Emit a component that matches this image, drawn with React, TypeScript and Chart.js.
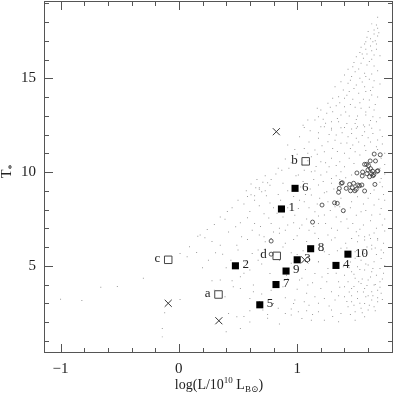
import React, { useEffect, useRef } from "react";
import { Chart, registerables } from "chart.js";

Chart.register(...registerables);

// ---- axis ranges & ticks ----
const X_MIN = -1.14;
const X_MAX = 1.81;
const Y_MIN = 0.35;
const Y_MAX = 19.12;
const xMajorTicks = [-1, 0, 1];
const yMajorTicks = [5, 10, 15];
const xMinorTicks = [-1, -0.8, -0.6, -0.4, -0.2, 0, 0.2, 0.4, 0.6, 0.8, 1, 1.2, 1.4, 1.6, 1.8];
const yMinorTicks = [1, 2, 3, 4, 5, 6, 7, 8, 9, 10, 11, 12, 13, 14, 15, 16, 17, 18, 19];

// ---- filled squares (numbered) ----
const filledLabels = ["1", "2", "3", "4", "5", "6", "7", "8", "9", "10"];
const filledX = [0.867, 0.478, 1.0, 1.328, 0.684, 0.982, 0.821, 1.114, 0.906, 1.429];
const filledY = [8.03, 5.0, 5.32, 5.02, 2.92, 9.13, 4.0, 5.91, 4.72, 5.62];

// ---- open squares (lettered) ----
const openLabels = ["a", "b", "c", "d"];
const openX = [0.335, 1.072, -0.09, 0.827];
const openY = [3.47, 10.57, 5.32, 5.53];

// ---- crosses ----
const crossX = [0.824, -0.09, 0.338, 1.063];
const crossY = [12.15, 3.0, 2.07, 5.32];

// ---- small open circles ----
const circleX = [1.651, 1.702, 1.586, 1.617, 1.662, 1.553, 1.505, 1.55, 1.598, 1.62, 1.637, 1.589, 1.629, 1.612, 1.64, 1.677, 1.648, 1.657,
  1.381, 1.443, 1.477, 1.513, 1.547, 1.466, 1.499, 1.451, 1.488, 1.356, 1.35, 1.57, 1.21, 1.316, 1.339, 1.39,
  1.415, 1.373, 1.527, 1.603, 1.682, 1.57,
  0.78, 1.13, 0.78];
const circleY = [10.96, 10.92, 10.41, 10.59, 10.59, 10.0, 9.95, 9.79, 10.11, 10.18, 10.05, 9.91, 9.91, 9.75, 9.8, 10.04, 9.86, 9.34,
  9.43, 9.34, 9.4, 9.31, 9.31, 9.16, 9.08, 9.0, 9.0, 9.13, 8.92, 8.99, 8.24, 8.36, 8.33, 7.94,
  9.13, 9.4, 9.27, 10.34, 10.07, 10.41,
  6.32, 7.33, 5.62];

// ---- background galaxy cloud (tiny grey dots) ----
const cloudPoints: [number, number][] = [
  [1.68, 18.25], [1.63, 17.9], [1.67, 17.84], [1.68, 17.67], [1.65, 17.58], [1.69, 17.43], [1.65, 17.36], [1.68, 17.26],
  [1.59, 17.19], [1.62, 17.11], [1.58, 16.95], [1.64, 16.95], [1.57, 16.83], [1.67, 16.83], [1.62, 16.72], [1.54, 16.65],
  [1.58, 16.55], [1.63, 16.47], [1.67, 16.55], [1.53, 16.37], [1.59, 16.3], [1.65, 16.24], [1.5, 16.15], [1.56, 16.07],
  [1.63, 16.01], [1.48, 15.84], [1.54, 15.8], [1.59, 15.71], [1.65, 15.66], [1.47, 15.62], [1.43, 15.48], [1.49, 15.35],
  [1.57, 15.27], [1.63, 15.23], [1.4, 15.18], [1.46, 15.09], [1.53, 15.0], [1.61, 14.95], [1.65, 14.87], [1.37, 14.82],
  [1.43, 14.73], [1.5, 14.64], [1.57, 14.55], [1.64, 14.52], [1.32, 14.55], [1.39, 14.38], [1.44, 14.29], [1.52, 14.2],
  [1.58, 14.29], [1.63, 14.11], [1.35, 14.02], [1.4, 13.93], [1.47, 13.88], [1.56, 13.88], [1.61, 13.84], [1.3, 13.93],
  [1.26, 13.67], [1.33, 13.53], [1.4, 13.48], [1.49, 13.45], [1.54, 13.4], [1.61, 13.45], [1.65, 13.31], [1.2, 13.31],
  [1.25, 13.13], [1.3, 13.22], [1.37, 13.04], [1.44, 12.99], [1.51, 12.99], [1.58, 13.04], [1.64, 12.95], [1.18, 12.95],
  [1.09, 12.77], [1.15, 12.77], [1.22, 12.81], [1.29, 12.68], [1.35, 12.68], [1.42, 12.59], [1.49, 12.59], [1.56, 12.51],
  [1.61, 12.51], [1.67, 12.68], [1.06, 12.38], [1.2, 12.41], [1.29, 12.33], [1.4, 12.38], [1.5, 12.33], [1.57, 12.41],
  [1.17, 13.4], [1.05, 12.5], [0.92, 11.44], [1.02, 11.88],
  [1.23, 12.42], [1.29, 12.24], [1.37, 12.36], [1.46, 12.29], [1.51, 12.42], [1.57, 12.15], [1.63, 12.33], [1.7, 12.24],
  [1.33, 11.97], [1.43, 11.88], [1.5, 11.8], [1.6, 11.83], [1.68, 11.71], [1.26, 11.62], [1.37, 11.53], [1.47, 11.44],
  [1.57, 11.4], [1.67, 11.35], [1.18, 11.8], [1.15, 11.17], [1.23, 11.08], [1.3, 11.26], [1.4, 11.0], [1.49, 11.08],
  [1.29, 10.73], [1.36, 10.55], [1.44, 10.73], [1.53, 10.91], [1.2, 10.55], [1.12, 10.82], [1.06, 11.26], [1.04, 10.37],
  [1.27, 10.28], [1.4, 10.28], [1.71, 10.73], [1.7, 10.2], [1.01, 9.84], [1.12, 10.02], [1.2, 9.84], [1.29, 9.66],
  [1.37, 10.02], [1.46, 9.84], [1.71, 9.66], [1.18, 9.31], [1.25, 8.95], [1.43, 9.13], [1.65, 9.04], [1.72, 9.22],
  [1.29, 9.4], [1.06, 8.42], [1.12, 8.77], [1.19, 8.6], [1.26, 8.42], [1.32, 8.15], [1.4, 7.88], [1.46, 8.42],
  [1.51, 8.68], [1.6, 8.6], [1.65, 8.24], [1.71, 8.06], [1.54, 7.88], [1.63, 7.71], [1.74, 8.5], [1.23, 7.71],
  [1.15, 7.88], [1.01, 8.06], [1.04, 7.17], [1.18, 7.26], [1.29, 7.0], [1.37, 7.35], [1.43, 7.0], [1.5, 6.81],
  [1.56, 7.17], [1.61, 6.64], [1.67, 7.0], [1.72, 7.17], [1.46, 6.46], [1.57, 6.37], [1.68, 6.46], [0.78, 6.46],
  [0.92, 7.17], [1.26, 6.64],
  [1.46, 6.46], [1.51, 6.28], [1.57, 6.55], [1.63, 6.1], [1.68, 6.37], [1.71, 5.84], [1.29, 6.37], [1.37, 5.93],
  [1.23, 5.75], [1.18, 6.46], [1.57, 5.66], [1.49, 5.75], [1.54, 5.3], [1.6, 5.04], [1.65, 5.21], [1.7, 4.86],
  [1.63, 4.68], [1.57, 4.77], [1.51, 4.95], [1.46, 4.68], [1.4, 4.5], [1.26, 4.86], [1.18, 5.21], [1.15, 4.59],
  [1.67, 4.5], [1.71, 5.39], [1.43, 4.15], [1.49, 4.33], [1.54, 4.06], [1.6, 4.24], [1.65, 3.97], [1.7, 4.15],
  [1.46, 3.79], [1.51, 3.61], [1.57, 3.79], [1.63, 3.61], [1.68, 3.7], [1.4, 3.88], [1.35, 4.15], [1.29, 3.61],
  [1.2, 3.79], [1.09, 3.97], [1.04, 4.33], [1.71, 3.53], [1.15, 3.35], [1.23, 3.26], [1.32, 3.17], [1.4, 3.35],
  [1.46, 3.08], [1.51, 3.26], [1.57, 2.99], [1.63, 3.17], [1.68, 3.08], [1.43, 2.81], [1.54, 2.73], [1.6, 2.64],
  [1.65, 2.81], [1.06, 3.08], [0.98, 3.17], [1.29, 2.64], [1.37, 2.46], [1.49, 2.55], [1.18, 2.55], [0.9, 2.46],
  [0.95, 2.37], [1.01, 2.55], [1.04, 2.19], [1.12, 2.1], [1.23, 2.1], [1.35, 2.01], [1.49, 2.1], [1.57, 2.28],
  [1.45, 5.2], [1.52, 5.5], [1.58, 5.1], [1.62, 4.4], [1.66, 4.0], [1.72, 4.3], [1.55, 4.3], [1.48, 3.9],
  [1.6, 3.4], [1.68, 3.3], [1.53, 3.0], [1.63, 5.9], [1.44, 4.9], [1.74, 5.0], [1.59, 6.0], [1.49, 5.4],
  [1.67, 5.6], [1.56, 3.6], [1.61, 2.9], [1.46, 3.4],
  [0.73, 6.28], [0.78, 6.46], [0.67, 5.84], [0.56, 5.21], [0.77, 4.59], [0.52, 4.41], [0.6, 4.77], [0.46, 3.88],
  [0.63, 3.61], [0.88, 3.88], [0.91, 4.5], [1.02, 4.24], [1.08, 3.53], [0.97, 2.99], [0.8, 2.99], [0.84, 2.73],
  [0.71, 2.64], [0.6, 3.26], [0.39, 3.35], [0.35, 4.24], [0.49, 6.1], [0.68, 6.64], [0.53, 6.55], [0.85, 6.73],
  [0.95, 5.13], [1.15, 6.73], [1.22, 5.84], [1.18, 5.21], [1.26, 4.59], [1.1, 2.9],
  [0.61, 9.36], [0.65, 9.16], [0.68, 9.16], [0.68, 9.08], [0.71, 9.45], [0.75, 9.43], [0.7, 8.95], [0.61, 8.79],
  [0.58, 8.7], [0.64, 8.74], [0.74, 8.74], [0.41, 7.9], [0.39, 7.48], [0.58, 7.56], [0.72, 7.77], [0.48, 7.08],
  [0.64, 7.26], [0.24, 6.94], [0.16, 6.58], [0.72, 6.55],
  [0.8, 8.1], [0.88, 7.6], [0.95, 8.3], [0.84, 8.8], [0.92, 9.0], [0.78, 9.6], [0.87, 10.1], [0.95, 10.5],
  [0.99, 9.8], [0.55, 8.3], [0.68, 8.2], [0.3, 7.2], [0.28, 6.3], [0.35, 6.1], [0.62, 6.9], [0.85, 7.0],
  [0.9, 6.2], [1.0, 6.6], [0.97, 7.3], [1.05, 5.8], [1.1, 6.9], [1.0, 5.6],
  [0.4, 1.48], [0.52, 1.66], [0.49, 2.28], [0.42, 2.46], [0.6, 2.0], [0.75, 2.2], [0.85, 1.9],
  [-1.0, 3.21], [-0.82, 3.15], [-0.66, 3.85], [-0.52, 3.9], [-0.3, 4.33], [0.01, 5.66], [0.07, 5.48], [0.15, 5.71],
  [0.09, 6.01], [0.01, 3.2], [-0.12, 2.49], [-0.14, 1.66], [-0.14, 1.21], [0.18, 6.64], [0.37, 5.61], [0.5, 5.84],
  [0.67, 5.3], [0.52, 3.79], [0.63, 3.97], [0.2, 4.9], [0.28, 4.2], [0.25, 5.3],
  [1.6, 17.5], [1.66, 17.0], [1.7, 16.2], [1.55, 16.3], [1.61, 15.9], [1.52, 15.5], [1.68, 15.4], [1.58, 15.1],
  [1.45, 14.9], [1.7, 14.7], [1.55, 14.8], [1.48, 14.45], [1.62, 14.35], [1.68, 14.0], [1.42, 14.1], [1.53, 13.7],
  [1.36, 13.7], [1.45, 13.6], [1.66, 13.6], [1.58, 13.2], [1.28, 13.45], [1.41, 13.2], [1.5, 12.8], [1.34, 12.85],
  [1.24, 12.6], [1.62, 12.75], [1.7, 12.9], [1.11, 12.2], [1.18, 12.1], [1.27, 12.0], [1.38, 12.1], [1.46, 12.05],
  [1.55, 11.95], [1.64, 12.05], [1.72, 11.9], [1.1, 11.6], [1.21, 11.4], [1.32, 11.7], [1.42, 11.55], [1.52, 11.6],
  [1.62, 11.6], [1.72, 11.5], [0.98, 11.2], [1.09, 11.0], [1.17, 10.95], [1.34, 11.1], [1.45, 11.25], [1.58, 11.15],
  [1.68, 11.2], [1.74, 11.0], [0.9, 10.7], [1.0, 10.95], [1.09, 10.6], [1.16, 10.3], [1.24, 10.5], [1.33, 10.35],
  [1.48, 10.45], [1.74, 10.4], [0.84, 10.2], [0.93, 10.2], [1.06, 10.1], [1.15, 10.05], [1.25, 10.0], [1.33, 9.8],
  [1.41, 9.7], [1.74, 9.9], [0.73, 9.8], [0.82, 9.9], [1.05, 9.5], [1.14, 9.6], [1.22, 9.5], [1.36, 9.6],
  [1.7, 9.45], [0.66, 9.6], [0.77, 9.3], [0.88, 9.4], [1.03, 9.2], [1.11, 9.1], [1.31, 9.1], [1.62, 8.85],
  [1.73, 8.8], [0.57, 9.0], [0.73, 9.0], [0.86, 8.5], [0.97, 8.7], [1.07, 8.8], [1.17, 8.3], [1.23, 8.9],
  [1.37, 8.6], [1.45, 8.1], [1.56, 8.3], [1.69, 8.55], [0.5, 8.5], [0.64, 8.5], [0.77, 8.35], [0.92, 8.1],
  [1.02, 8.5], [1.1, 8.1], [1.28, 7.95], [1.36, 8.15], [1.5, 7.7], [1.58, 7.95], [1.7, 7.75], [0.45, 8.1],
  [0.6, 7.9], [0.76, 7.55], [0.83, 7.8], [0.98, 7.7], [1.08, 7.5], [1.18, 7.65], [1.33, 7.6], [1.42, 7.5],
  [1.47, 7.25], [1.62, 7.4], [1.74, 7.5], [0.35, 7.6], [0.52, 7.3], [0.69, 7.1], [0.78, 7.25], [0.9, 6.9],
  [1.02, 7.0], [1.14, 7.1], [1.24, 7.25], [1.34, 6.9], [1.53, 6.95], [1.65, 6.75], [1.74, 6.85], [0.22, 6.5],
  [0.42, 6.8], [0.58, 6.4], [0.8, 6.8], [0.97, 6.4], [1.08, 6.3], [1.2, 6.1], [1.32, 6.5], [1.41, 6.2],
  [1.52, 6.6], [1.62, 6.45], [1.73, 6.2], [0.31, 5.7], [0.44, 5.3], [0.62, 5.65], [0.73, 5.9], [0.88, 6.0],
  [0.95, 5.7], [1.13, 5.8], [1.27, 5.6], [1.34, 5.8], [1.42, 5.95], [1.55, 5.85], [1.66, 5.95], [1.73, 5.7],
  [0.4, 4.9], [0.55, 4.6], [0.7, 5.1], [0.85, 5.3], [0.92, 4.3], [1.07, 4.8], [1.21, 4.4], [1.33, 4.6],
  [1.39, 4.95], [1.48, 4.55], [1.53, 4.8], [1.64, 4.85], [1.73, 4.6], [0.3, 3.7], [0.45, 4.2], [0.7, 3.5],
  [0.78, 3.7], [1.0, 3.75], [1.13, 4.1], [1.25, 4.15], [1.36, 3.85], [1.44, 3.6], [1.52, 4.15], [1.59, 3.95],
  [1.7, 3.85], [0.6, 2.6], [0.68, 3.1], [0.9, 3.3], [1.08, 2.6], [1.18, 3.0], [1.27, 2.85], [1.35, 3.4],
  [1.42, 3.1], [1.48, 2.9], [1.58, 3.35], [1.64, 3.4], [1.72, 3.2], [0.55, 2.3], [0.75, 2.4], [0.95, 2.7],
  [1.13, 2.4], [1.3, 2.3], [1.45, 2.4], [1.55, 2.5], [1.66, 2.6],
];

const FONT = '"Liberation Serif", "DejaVu Serif", serif';
const INK = "#222";

const pts = (xs: number[], ys: number[]) => xs.map((x, i) => ({ x, y: ys[i] }));

const decorPlugin = {
  id: "decor",
  afterDatasetsDraw(chart: any) {
    const { ctx, chartArea: a, scales } = chart;
    const sx = scales.x;
    const sy = scales.y;
    ctx.save();
    // frame
    ctx.strokeStyle = "#555";
    ctx.lineWidth = 1;
    ctx.strokeRect(a.left + 0.5, a.top + 0.5, a.right - a.left - 1, a.bottom - a.top - 1);
    // inward ticks
    ctx.beginPath();
    xMinorTicks.forEach((v) => {
      const major = xMajorTicks.some((m) => Math.abs(m - v) < 1e-9);
      const len = major ? 9 : 5;
      const px = Math.round(sx.getPixelForValue(v)) + 0.5;
      ctx.moveTo(px, a.bottom);
      ctx.lineTo(px, a.bottom - len);
      ctx.moveTo(px, a.top);
      ctx.lineTo(px, a.top + len);
    });
    yMinorTicks.forEach((v) => {
      const major = yMajorTicks.some((m) => Math.abs(m - v) < 1e-9);
      const len = major ? 9 : 5;
      const py = Math.round(sy.getPixelForValue(v)) + 0.5;
      ctx.moveTo(a.left, py);
      ctx.lineTo(a.left + len, py);
      ctx.moveTo(a.right, py);
      ctx.lineTo(a.right - len, py);
    });
    ctx.stroke();

    // point labels
    ctx.fillStyle = INK;
    ctx.font = `13px ${FONT}`;
    ctx.textBaseline = "middle";
    ctx.textAlign = "left";
    filledLabels.forEach((t, i) => {
      ctx.fillText(t, sx.getPixelForValue(filledX[i]) + 7, sy.getPixelForValue(filledY[i]) - 1);
    });
    ctx.textAlign = "right";
    openLabels.forEach((t, i) => {
      const off = t === "d" ? 10 : 8;
      ctx.fillText(t, sx.getPixelForValue(openX[i]) - off, sy.getPixelForValue(openY[i]) - 1);
    });

    // x-axis title: log(L/10^10 L_B⊙)
    const big = `14px ${FONT}`;
    const small = `9px ${FONT}`;
    const segs: [string, string, number][] = [
      ["log(L/10", big, 0],
      ["10", small, -6],
      [" L", big, 0],
      ["B⊙", small, 3],
      [")", big, 0],
    ];
    let total = 0;
    segs.forEach(([t, f]) => { ctx.font = f; total += ctx.measureText(t).width; });
    let cx = 219 - total / 2;
    const baseY = 389;
    ctx.textAlign = "left";
    ctx.textBaseline = "alphabetic";
    segs.forEach(([t, f, dy]) => {
      ctx.font = f;
      ctx.fillText(t, cx, baseY + dy);
      cx += ctx.measureText(t).width;
    });

    // y-axis title: T_*
    ctx.save();
    ctx.translate(11, 178);
    ctx.rotate(-Math.PI / 2);
    ctx.font = big;
    ctx.fillText("T", 0, 0);
    const tw = ctx.measureText("T").width;
    ctx.font = `10px ${FONT}`;
    ctx.fillText("*", tw, 4);
    ctx.restore();

    ctx.restore();
  },
};

export default function App() {
  const ref = useRef<HTMLCanvasElement | null>(null);
  useEffect(() => {
    document.body.style.margin = "0";
    const canvas = ref.current!;
    const chart = new Chart(canvas, {
      type: "scatter",
      data: {
        datasets: [
          {
            label: "filled",
            data: pts(filledX, filledY),
            pointStyle: "rect",
            pointRadius: 5,
            backgroundColor: "#000",
            borderColor: "#000",
            borderWidth: 0,
            order: 0,
          },
          {
            label: "open",
            data: pts(openX, openY),
            pointStyle: "rect",
            pointRadius: 5.3,
            backgroundColor: "rgba(255,255,255,0)",
            borderColor: "#444",
            borderWidth: 1,
            order: 1,
          },
          {
            label: "cross",
            data: pts(crossX, crossY),
            pointStyle: "crossRot",
            pointRadius: 5,
            borderColor: "#333",
            borderWidth: 1,
            order: 2,
          },
          {
            label: "circles",
            data: pts(circleX, circleY),
            pointStyle: "circle",
            pointRadius: 2,
            backgroundColor: "rgba(255,255,255,0)",
            borderColor: "#333",
            borderWidth: 0.8,
            order: 3,
          },
          {
            label: "cloud",
            data: cloudPoints.map(([x, y]) => ({ x, y })),
            pointStyle: "rect",
            pointRadius: 0.7,
            backgroundColor: "#9a9a9a",
            borderWidth: 0,
            order: 4,
          },
        ],
      },
      options: {
        responsive: false,
        animation: false,
        events: [],
        layout: { autoPadding: false, padding: { left: 0, right: 4, top: 1, bottom: 0 } },
        plugins: { legend: { display: false }, tooltip: { enabled: false } },
        scales: {
          x: {
            type: "linear",
            position: "bottom",
            min: X_MIN,
            max: X_MAX,
            grid: { display: false, drawTicks: false },
            border: { display: false },
            afterBuildTicks: (s: any) => { s.ticks = xMajorTicks.map((value) => ({ value })); },
            afterFit: (s: any) => {
              s.height = 40;
              s.paddingLeft = 0; s.paddingRight = 0; s.paddingTop = 0; s.paddingBottom = 0;
            },
            ticks: {
              padding: 7,
              color: INK,
              font: { family: FONT, size: 15 },
              callback: (v: any) => String(v).replace("-", "\u2212"),
            },
          },
          y: {
            type: "linear",
            position: "left",
            min: Y_MIN,
            max: Y_MAX,
            grid: { display: false, drawTicks: false },
            border: { display: false },
            afterBuildTicks: (s: any) => { s.ticks = yMajorTicks.map((value) => ({ value })); },
            afterFit: (s: any) => {
              s.width = 44;
              s.paddingLeft = 0; s.paddingRight = 0; s.paddingTop = 0; s.paddingBottom = 0;
            },
            ticks: {
              padding: 8,
              color: INK,
              font: { family: FONT, size: 15 },
              callback: (v: any) => String(v),
            },
          },
        },
      },
      plugins: [decorPlugin],
    });
    return () => chart.destroy();
  }, []);
  return (
    <canvas
      ref={ref}
      width={397}
      height={393}
      style={{ display: "block", position: "absolute", left: 0, top: 0 }}
    />
  );
}
